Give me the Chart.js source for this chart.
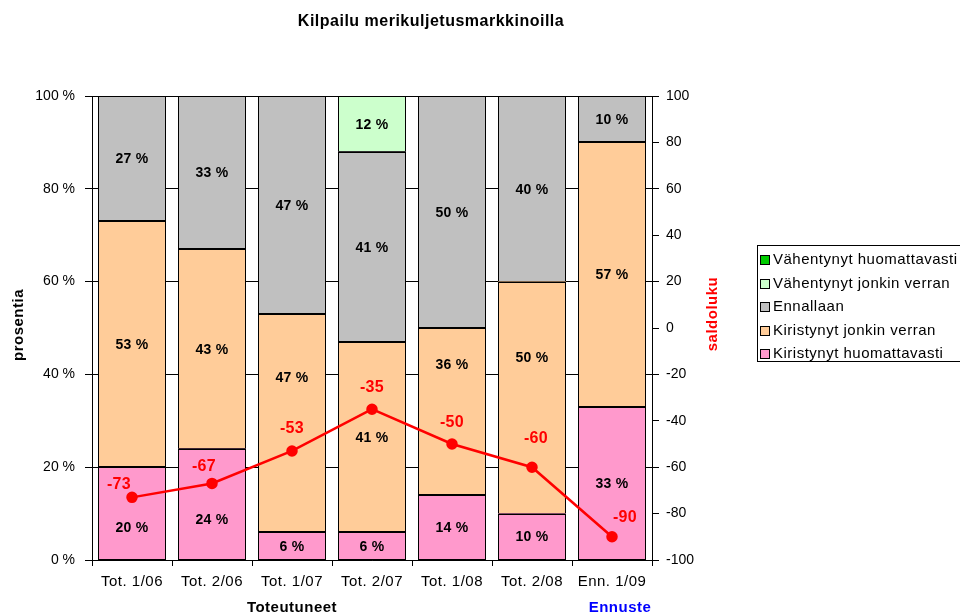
<!DOCTYPE html>
<html>
<head>
<meta charset="utf-8">
<script src="https://cdn.jsdelivr.net/npm/chart.js@4.4.1/dist/chart.umd.min.js"></script>
<style>
  html, body { margin: 0; padding: 0; background: #fff; }
  #wrap { position: relative; width: 960px; height: 616px; overflow: hidden; }
  #legend { position: absolute; left: 757px; top: 245px; width: 240px; height: 117px;
    border: 1px solid #000; box-sizing: border-box; font-family: "Liberation Sans", Arial, sans-serif;
    font-size: 15px; letter-spacing: 0.5px; color: #000; padding-top: 1px; }
  .li { height: 23.5px; line-height: 23.5px; white-space: nowrap; padding-left: 2px; }
  .sw { display: inline-block; width: 8px; height: 8px; border: 1px solid #000; margin-right: 3px; vertical-align: -1px; }
</style>
</head>
<body>
<div id="wrap">
  <canvas id="c" width="960" height="616"></canvas>
  <div id="legend"></div>
</div>
<script>
const categories = ["Tot. 1/06", "Tot. 2/06", "Tot. 1/07", "Tot. 2/07", "Tot. 1/08", "Tot. 2/08", "Enn. 1/09"];
const kiristynytHuomattavasti = [20, 24, 6, 6, 14, 10, 33];
const kiristynytJonkin = [53, 43, 47, 41, 36, 50, 57];
const ennallaan = [27, 33, 47, 41, 50, 40, 10];
const vahentynytJonkin = [0, 0, 0, 12, 0, 0, 0];
const vahentynytHuomattavasti = [0, 0, 0, 0, 0, 0, 0];
const saldoluku = [-73, -67, -53, -35, -50, -60, -90];
const leftTicks = [0, 20, 40, 60, 80, 100];
const rightTicks = [-100, -80, -60, -40, -20, 0, 20, 40, 60, 80, 100];

const FONT = '"Liberation Sans", Arial, sans-serif';

const barSeries = [
  { label: "Kiristynyt huomattavasti", data: kiristynytHuomattavasti, color: "#FF99CC" },
  { label: "Kiristynyt jonkin verran", data: kiristynytJonkin, color: "#FFCC99" },
  { label: "Ennallaan", data: ennallaan, color: "#C0C0C0" },
  { label: "Vähentynyt jonkin verran", data: vahentynytJonkin, color: "#CCFFCC" },
  { label: "Vähentynyt huomattavasti", data: vahentynytHuomattavasti, color: "#00CC00" }
];

// manual label placement tweaks (pixels), as in the original chart
const barLabelShift = {
  "Kiristynyt huomattavasti": [14, 15, 0, 0, 0, 0, 0],
  "Kiristynyt jonkin verran": [0, 0, -46, 0, -47, -40, 0]
};
const lineLabelShift = [[-13, -13], [-8, -17], [0, -22], [0, -22], [0, -21], [4, -29], [13, -19]];

const datasets = barSeries.map(s => ({
  type: 'bar',
  label: s.label,
  data: s.data,
  backgroundColor: s.color,
  borderWidth: 0,
  yAxisID: 'y',
  stack: 's',
  order: 1,
  barPercentage: 0.85,
  categoryPercentage: 1.0
}));
datasets.push({
  type: 'line',
  label: 'saldoluku',
  data: saldoluku,
  borderColor: '#FF0000',
  backgroundColor: '#FF0000',
  borderWidth: 2.5,
  pointRadius: 4.5,
  pointBackgroundColor: '#FF0000',
  pointBorderColor: '#FF0000',
  yAxisID: 'y1',
  order: 0,
  tension: 0
});

// legend (HTML, reversed order)
const leg = document.getElementById('legend');
barSeries.slice().reverse().forEach(s => {
  const d = document.createElement('div');
  d.className = 'li';
  d.innerHTML = '<span class="sw" style="background:' + s.color + '"></span>' + s.label;
  leg.appendChild(d);
});

function spaced(ctx, px) { if ('letterSpacing' in ctx) ctx.letterSpacing = px; }

const decor = {
  id: 'decor',
  beforeDraw(chart) {
    const s = chart.scales.x;
    if (s && !s._lsWrapped) {
      const orig = s.drawLabels.bind(s);
      s.drawLabels = function (ca) {
        const c = this.ctx; c.save(); spaced(c, '0.5px'); orig(ca); c.restore();
      };
      s._lsWrapped = true;
    }
  },
  afterDatasetDraw(chart, args) {
    const ds = chart.data.datasets[args.index];
    if (ds.type !== 'bar') return;
    const ctx = chart.ctx;
    ctx.save();
    ctx.strokeStyle = '#000';
    ctx.lineWidth = 1;
    args.meta.data.forEach((el, i) => {
      if (!(ds.data[i] > 0)) return;
      const x0 = Math.round(el.x - el.width / 2) + 0.5;
      const x1 = Math.round(el.x + el.width / 2) - 0.5;
      const y0 = Math.round(el.y) + 0.5;
      const y1 = Math.round(el.base) - 0.5;
      ctx.strokeRect(x0, y0, x1 - x0, y1 - y0);
    });
    ctx.restore();
  },
  afterDatasetsDraw(chart) {
    const ctx = chart.ctx;
    ctx.save();
    ctx.textAlign = 'center';
    ctx.textBaseline = 'middle';
    ctx.font = 'bold 14px ' + FONT;
    spaced(ctx, '0.3px');
    ctx.fillStyle = '#000';
    chart.data.datasets.forEach((ds, di) => {
      if (ds.type !== 'bar') return;
      const meta = chart.getDatasetMeta(di);
      const sh = barLabelShift[ds.label];
      meta.data.forEach((el, i) => {
        const v = ds.data[i];
        if (!v) return;
        ctx.fillText(v + ' %', el.x, (el.y + el.base) / 2 + 1 + (sh ? sh[i] : 0));
      });
    });
    const li = chart.data.datasets.length - 1;
    const lm = chart.getDatasetMeta(li);
    ctx.font = 'bold 16px ' + FONT;
    ctx.fillStyle = '#FF0000';
    lm.data.forEach((el, i) => {
      const sh = lineLabelShift[i];
      ctx.fillText(String(chart.data.datasets[li].data[i]), el.x + sh[0], el.y + sh[1]);
    });
    ctx.restore();
  },
  afterDraw(chart) {
    const ctx = chart.ctx;
    const x = chart.scales.x;
    ctx.save();
    spaced(ctx, '0.5px');
    ctx.fillStyle = '#000';
    ctx.font = 'bold 16px ' + FONT;
    ctx.textAlign = 'center';
    ctx.textBaseline = 'middle';
    ctx.fillText('Kilpailu merikuljetusmarkkinoilla', 431, 22);
    // left axis title
    ctx.save();
    ctx.translate(19, 325);
    ctx.rotate(-Math.PI / 2);
    ctx.font = 'bold 15px ' + FONT;
    ctx.fillText('prosentia', 0, 0);
    ctx.restore();
    // right axis title
    ctx.save();
    ctx.translate(713, 314);
    ctx.rotate(-Math.PI / 2);
    ctx.fillStyle = '#FF0000';
    ctx.font = 'bold 15px ' + FONT;
    ctx.fillText('saldoluku', 0, 0);
    ctx.restore();
    // bottom group labels
    ctx.font = 'bold 15px ' + FONT;
    ctx.fillStyle = '#000';
    ctx.fillText('Toteutuneet', x.getPixelForValue(2), 608);
    ctx.fillStyle = '#0000FF';
    ctx.fillText('Ennuste', x.getPixelForValue(6) + 8, 608);
    ctx.restore();
  }
};

new Chart(document.getElementById('c'), {
  data: { labels: categories, datasets },
  plugins: [decor],
  options: {
    responsive: false,
    animation: false,
    layout: { padding: { left: 0, right: 253, top: 96, bottom: 26 } },
    plugins: { legend: { display: false }, tooltip: { enabled: false }, title: { display: false } },
    scales: {
      x: {
        stacked: true,
        offset: true,
        grid: { offset: true, drawOnChartArea: false, color: '#000', tickLength: 6, tickWidth: 1 },
        border: { color: '#000', width: 1 },
        ticks: { color: '#000', font: { family: FONT, size: 15 }, padding: 7, maxRotation: 0, autoSkip: false },
        afterFit(s) { s.height = 30; }
      },
      y: {
        position: 'left',
        stacked: true,
        min: 0, max: 100,
        afterBuildTicks(s) { s.ticks = leftTicks.map(v => ({ value: v })); },
        grid: { color: '#000', tickLength: 7, lineWidth: 1 },
        border: { color: '#000', width: 1 },
        ticks: { color: '#000', font: { family: FONT, size: 14 }, padding: 10, callback: v => v + ' %' },
        afterFit(s) { s.width = 92; }
      },
      y1: {
        position: 'right',
        min: -100, max: 100,
        afterBuildTicks(s) { s.ticks = rightTicks.map(v => ({ value: v })); },
        grid: { drawOnChartArea: false, color: '#000', tickLength: 7 },
        border: { color: '#000', width: 1 },
        ticks: { color: '#000', font: { family: FONT, size: 14 }, padding: 7 },
        afterFit(s) { s.width = 55; }
      }
    }
  }
});
</script>
</body>
</html>
